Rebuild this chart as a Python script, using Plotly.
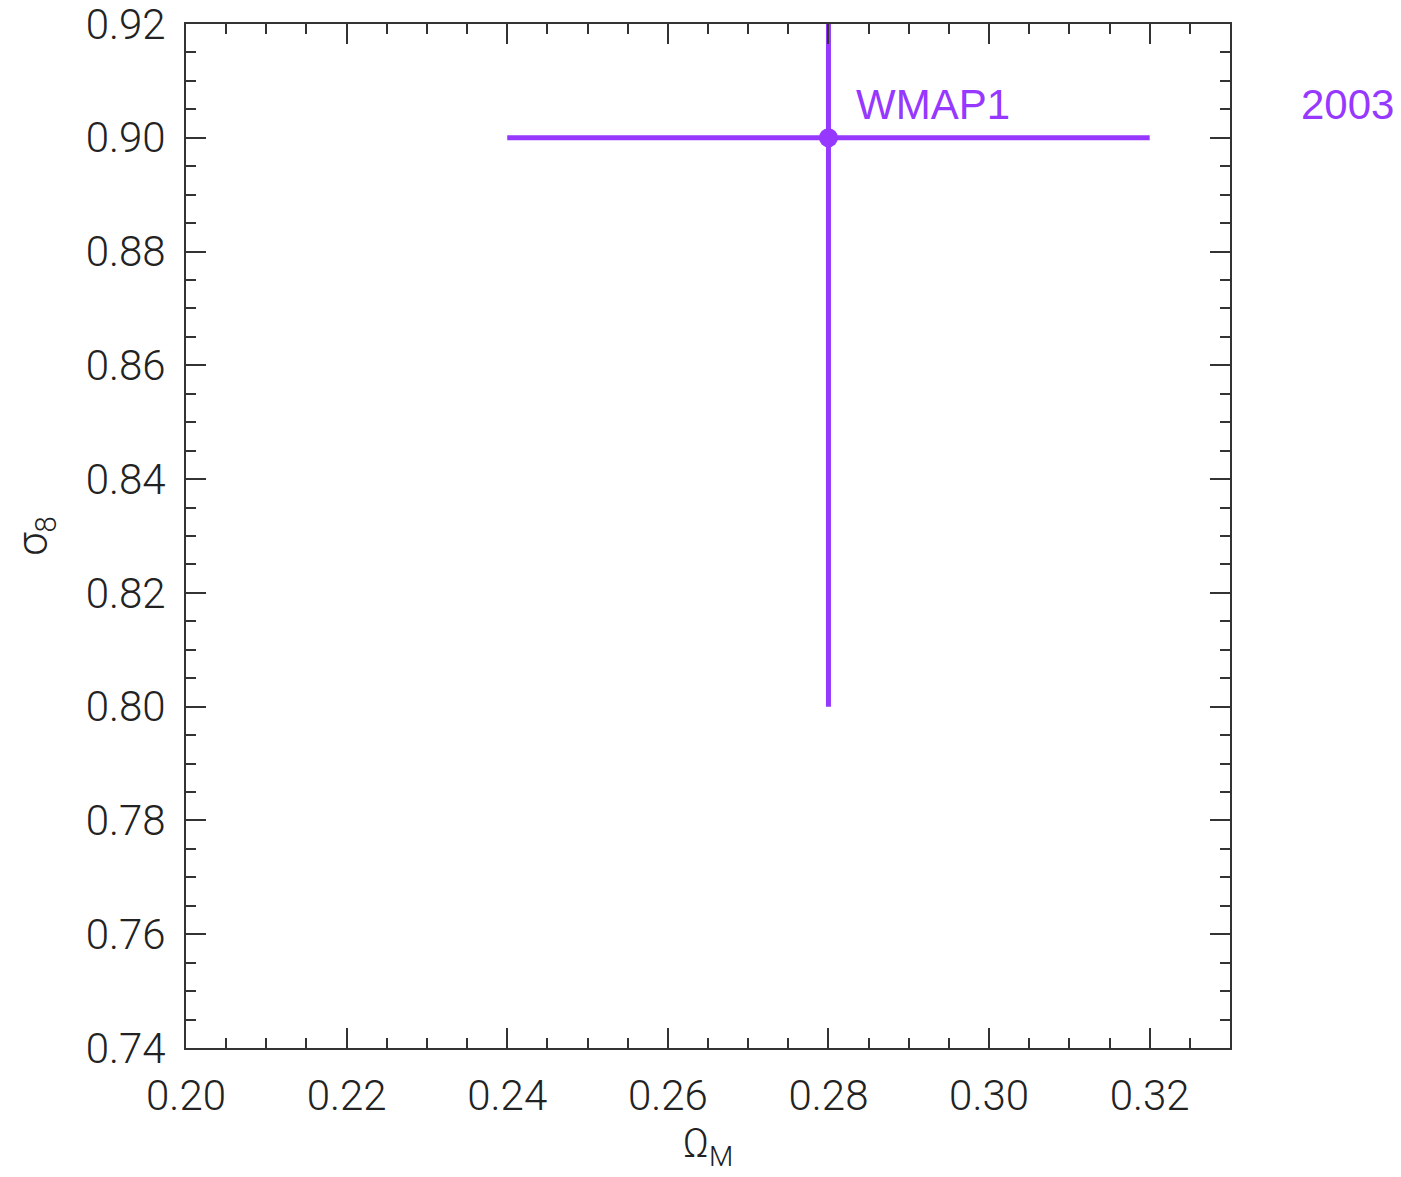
import plotly.graph_objects as go

# Data
omega_m = [0.28]
sigma_8 = [0.90]
omega_err_minus = [0.04]
omega_err_plus = [0.04]
sigma_err_minus = [0.10]
sigma_err_plus = [0.02]
point_labels = ["WMAP1"]
years = ["2003"]

x_ticks = [0.20, 0.22, 0.24, 0.26, 0.28, 0.30, 0.32]
y_ticks = [0.74, 0.76, 0.78, 0.80, 0.82, 0.84, 0.86, 0.88, 0.90, 0.92]

PURPLE = "rgb(150,56,255)"
AXC = "#333333"
TICKFONT = dict(family="Roboto", size=42, color="#222222", weight=300)

fig = go.Figure()
fig.add_trace(go.Scatter(
    x=omega_m, y=sigma_8, mode="markers",
    marker=dict(color=PURPLE, size=19),
    error_x=dict(type="data", symmetric=False, array=omega_err_plus,
                 arrayminus=omega_err_minus, color=PURPLE, thickness=5, width=0),
    error_y=dict(type="data", symmetric=False, array=sigma_err_plus,
                 arrayminus=sigma_err_minus, color=PURPLE, thickness=5, width=0),
    showlegend=False, cliponaxis=True,
))

for xv, yv, lab in zip(omega_m, sigma_8, point_labels):
    fig.add_annotation(x=xv, y=yv, text=lab, showarrow=False,
                       xanchor="left", yanchor="middle", xshift=26, yshift=33,
                       font=dict(family="Liberation Sans", size=42, color=PURPLE))
for yv, yr in zip(sigma_8, years):
    fig.add_annotation(x=1.0, xref="paper", y=yv, text=yr, showarrow=False,
                       xanchor="left", yanchor="middle", xshift=69, yshift=33,
                       font=dict(family="Liberation Sans", size=42, color=PURPLE))

axis_common = dict(
    showgrid=False, zeroline=False, showline=True, linecolor=AXC, linewidth=2,
    mirror="allticks", ticks="inside", ticklen=20, tickwidth=2, tickcolor=AXC,
    tickfont=TICKFONT, ticklabeloverflow="allow",
    minor=dict(ticks="inside", ticklen=10, tickwidth=2, tickcolor=AXC, dtick=0.005, showgrid=False),
)

fig.update_xaxes(range=[0.20, 0.33], tickvals=x_ticks, tickformat=".2f",
                 title=dict(text="Ω<sub>M</sub>", font=dict(family="Roboto", size=40, color="#222222", weight=300), standoff=6),
                 ticklabelstandoff=10,
                 **axis_common)
fig.update_yaxes(range=[0.74, 0.92], tickvals=y_ticks, tickformat=".2f",
                 title=dict(text="σ<sub>8</sub>", font=dict(family="Roboto", size=42, color="#222222", weight=300), standoff=40),
                 ticklabelstandoff=10,
                 **axis_common)

fig.update_layout(
    width=1393, height=1169,
    margin=dict(l=178, r=171, t=16, b=129, autoexpand=False),
    plot_bgcolor="white", paper_bgcolor="white",
)

fig.write_html("out.html")
